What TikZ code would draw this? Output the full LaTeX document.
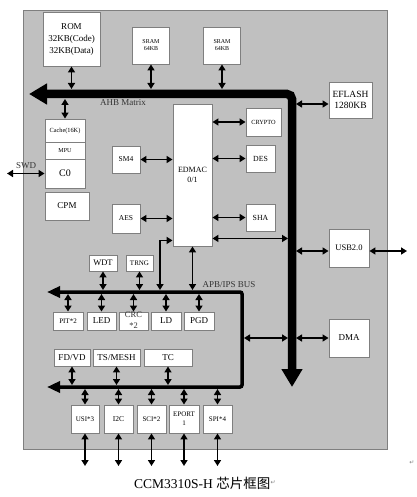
\documentclass[tikz,border=0pt]{standalone}
\usepackage{fontspec}
\setmainfont{Liberation Serif}
\newfontfamily\cjkfont{Noto Sans CJK SC}
\newfontfamily\symfont{DejaVu Sans}
\usetikzlibrary{arrows.meta}
\definecolor{panel}{HTML}{C0C0C0}
\definecolor{edgegray}{HTML}{7F7F7F}
\newcommand\fsz[1]{\fontsize{#1}{#1}\selectfont}
\tikzset{
  blk/.style={draw=edgegray, fill=white, line width=0.9pt, inner sep=0pt, align=center},
  dar/.style={line width=1.7pt, {Triangle[length=6pt,width=7pt]}-{Triangle[length=6pt,width=7pt]}},
  lbl/.style={inner sep=0pt, text=black!80},
}
\begin{document}
\begin{tikzpicture}[x=1pt,y=-1pt]
\useasboundingbox (0,0) rectangle (416,497);
% main panel
\filldraw[fill=panel, draw=edgegray, line width=0.9pt] (23,10) rectangle (387,449);

% helper coordinates
\coordinate (ahbT) at (0,89);
\coordinate (ahbB) at (0,99);
\coordinate (ahbL) at (288,0);
\coordinate (ahbR) at (296,0);
\coordinate (apbT) at (0,290);
\coordinate (apbB) at (0,294);
\coordinate (apbR) at (244,0);
\coordinate (lowT) at (0,385);
\coordinate (lowB) at (0,389);
\coordinate (extB) at (0,466);
\coordinate (extR) at (407,0);
\coordinate (swdL) at (7,0);
\coordinate (xk) at (160,0);

% buses
\draw[line width=8.5pt, rounded corners=5pt, {Triangle[length=18pt,width=20pt]}-{Triangle[length=18pt,width=20pt]}]
  (292,387) -- (292,94) -- (29,94);
\draw[line width=3.5pt, rounded corners=2pt, {Triangle[length=13pt,width=11pt]}-{Triangle[length=13pt,width=11pt]}]
  (47,387) -- (242,387) -- (242,292) -- (47,292);

\node[lbl, font=\fsz{9}] (ahbtxt) at (123,103) {AHB Matrix};
\node[lbl, font=\fsz{9}] (apbtxt) at (229,285) {APB/IPS BUS};

% top memories
\node[blk, minimum width=57pt, minimum height=54pt, font=\fontsize{9}{12}\selectfont] (rom) at (71.5,39) {ROM\\32KB(Code)\\32KB(Data)};
\node[blk, minimum width=37pt, minimum height=37pt, font=\fontsize{6}{7}\selectfont] (sram1) at (151,45.5) {SRAM\\64KB};
\node[blk, minimum width=37pt, minimum height=37pt, font=\fontsize{6}{7}\selectfont] (sram2) at (222,45.5) {SRAM\\64KB};
\node[blk, minimum width=43pt, minimum height=36pt, font=\fontsize{9.5}{11}\selectfont] (eflash) at (350.5,100) {EFLASH\\1280KB};

% CPU column
\node[blk, minimum width=40pt, minimum height=23pt, font=\fsz{6.3}] (cache) at (65,130.5) {Cache(16K)};
\node[blk, minimum width=40pt, minimum height=17pt, font=\fsz{6}] (mpu) at (65,150.5) {MPU};
\node[blk, minimum width=40pt, minimum height=29pt, font=\fsz{10}] (c0) at (65,173.5) {C0};
\node[blk, minimum width=44pt, minimum height=28pt, font=\fsz{9}] (cpm) at (67,206) {CPM};

% crypto
\node[blk, minimum width=28pt, minimum height=27pt, font=\fsz{7.5}] (sm4) at (126,159.5) {SM4};
\node[blk, minimum width=28pt, minimum height=29pt, font=\fsz{7.5}] (aes) at (126,218.5) {AES};
\node[blk, minimum width=39pt, minimum height=142pt, font=\fontsize{8}{10}\selectfont] (edmac) at (192.5,175) {EDMAC\\0/1};
\node[blk, minimum width=35pt, minimum height=28pt, font=\fsz{6.3}] (crypto) at (263.5,122) {CRYPTO};
\node[blk, minimum width=29pt, minimum height=27pt, font=\fsz{7.8}] (des) at (260.5,158.5) {DES};
\node[blk, minimum width=29pt, minimum height=27pt, font=\fsz{7.8}] (sha) at (260.5,217.5) {SHA};

% right side
\node[blk, minimum width=40pt, minimum height=38pt, font=\fsz{8.5}] (usb) at (349,248) {USB2.0};
\node[blk, minimum width=40pt, minimum height=38pt, font=\fsz{9}] (dma) at (349,338) {DMA};

% APB peripherals
\node[blk, minimum width=28pt, minimum height=16pt, font=\fsz{8.5}] (wdt) at (103,263) {WDT};
\node[blk, minimum width=27pt, minimum height=16pt, font=\fsz{7}] (trng) at (139.5,263) {TRNG};
\node[blk, minimum width=30pt, minimum height=18pt, font=\fsz{7}] (pit) at (68,321) {PIT*2};
\node[blk, minimum width=29pt, minimum height=18pt, font=\fsz{9}] (led) at (101.5,321) {LED};
\node[blk, minimum width=29pt, minimum height=18pt] (crc) at (133.5,321) {};
\node[lbl, font=\fontsize{8.5}{11}\selectfont, align=center] (crctxt) at (133.5,320.5) {CRC\\*2};
\node[blk, minimum width=30pt, minimum height=18pt, font=\fsz{9}] (ld) at (166,321) {LD};
\node[blk, minimum width=30pt, minimum height=18pt, font=\fsz{9}] (pgd) at (199,321) {PGD};
\node[blk, minimum width=36pt, minimum height=17pt, font=\fsz{9}] (fdvd) at (72,357.5) {FD/VD};
\node[blk, minimum width=47pt, minimum height=17pt, font=\fsz{9}] (tsmesh) at (116.5,357.5) {TS/MESH};
\node[blk, minimum width=48pt, minimum height=17pt, font=\fsz{9}] (tc) at (168,357.5) {TC};
\node[blk, minimum width=28pt, minimum height=28pt, font=\fsz{7}] (usi) at (85,419) {USI*3};
\node[blk, minimum width=29pt, minimum height=28pt, font=\fsz{7.5}] (i2c) at (118.5,419) {I2C};
\node[blk, minimum width=29pt, minimum height=28pt, font=\fsz{7}] (sci) at (151.5,419) {SCI*2};
\node[blk, minimum width=30pt, minimum height=28pt, font=\fontsize{7}{9}\selectfont] (eport) at (184,419) {EPORT\\1};
\node[blk, minimum width=29pt, minimum height=28pt, font=\fsz{7}] (spi) at (217.5,419) {SPI*4};

% AHB connectors
\draw[dar] (rom.south) -- (rom.south |- ahbT);
\draw[dar] (sram1.south) -- (sram1.south |- ahbT);
\draw[dar] (sram2.south) -- (sram2.south |- ahbT);
\draw[dar] (cache.north) -- (cache.north |- ahbB);
\coordinate (efw) at ([yshift=-4pt]eflash.west);
\draw[dar] (efw) -- (efw -| ahbR);
\coordinate (usw) at ([yshift=-3pt]usb.west);
\coordinate (use) at ([yshift=-3pt]usb.east);
\draw[dar] (usw) -- (usw -| ahbR);
\draw[dar] (use) -- (use -| extR);
\draw[dar] (dma.west) -- (dma.west -| ahbR);
\draw[dar] (dma.west -| apbR) -- (dma.west -| ahbL);
\coordinate (edb) at ([yshift=8pt]edmac.south east);
\draw[dar] (edb) -- (edb -| ahbL);

% crypto connectors
\draw[dar] (crypto.west) -- (crypto.west -| edmac.east);
\draw[dar] (des.west) -- (des.west -| edmac.east);
\draw[dar] (sha.west) -- (sha.west -| edmac.east);
\draw[dar] (sm4.east) -- (sm4.east -| edmac.west);
\draw[dar] (aes.east) -- (aes.east -| edmac.west);

% SWD
\draw[dar] (c0.west) -- (c0.west -| swdL);
\node[lbl, font=\fsz{9}] (swd) at (26,166) {SWD};

% EDMAC to APB
\draw[dar] (edmac.south) -- (edmac.south |- apbT);
\coordinate (edl) at ([yshift=6pt]edmac.south west);
\draw[dar] (xk |- apbT) -- (xk |- edl) -- (edl);

% APB connectors
\foreach \n in {wdt,trng} \draw[dar] (\n.south) -- (\n.south |- apbT);
\foreach \n in {pit,led,crc,ld,pgd} \draw[dar] (\n.north) -- (\n.north |- apbB);
\foreach \n in {fdvd,tsmesh,tc} \draw[dar] (\n.south) -- (\n.south |- lowT);
\foreach \n in {usi,i2c,sci,eport,spi} {
  \draw[dar] (\n.north) -- (\n.north |- lowB);
  \draw[dar] (\n.south) -- (\n.south |- extB);
}

% caption
\node[inner sep=0pt, anchor=west, font=\fsz{13.5}] (cap) at (134,483) {CCM3310S-H {\cjkfont 芯片框图}};
\node[inner sep=0pt, anchor=west, font=\symfont\fsz{6}, text=gray] (ret1) at (cap.east) {↵};
\node[inner sep=0pt, font=\symfont\fsz{6}, text=gray] (ret2) at (412,463) {↵};
\end{tikzpicture}
\end{document}
